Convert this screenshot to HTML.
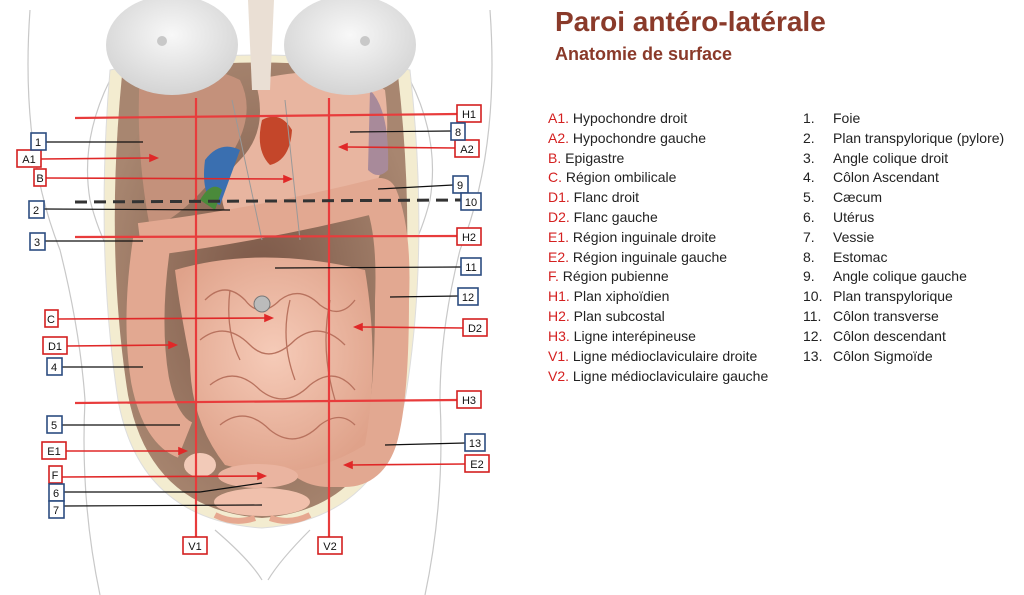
<!DOCTYPE html>
<html><head><meta charset="utf-8"><style>
html,body{margin:0;padding:0;background:#fff;}
body{width:1024px;height:595px;overflow:hidden;position:relative;font-family:"Liberation Sans",sans-serif;}
svg{position:absolute;left:0;top:0;}
</style></head><body>
<svg width="1024" height="595" viewBox="0 0 1024 595">
<defs>
<radialGradient id="cav" cx="50%" cy="50%" r="55%"><stop offset="0" stop-color="#7a5646"/><stop offset="1" stop-color="#a88670"/></radialGradient>
<radialGradient id="gut" cx="50%" cy="45%" r="60%"><stop offset="0" stop-color="#f6cbb8"/><stop offset="1" stop-color="#dfa28a"/></radialGradient>
<radialGradient id="br" cx="50%" cy="40%" r="60%"><stop offset="0" stop-color="#f8f8f8"/><stop offset="1" stop-color="#d4d4d4"/></radialGradient>
</defs>
<g fill="none" stroke="#c8c8c8" stroke-width="1.2">
<path d="M30 10 Q20 150 60 250 Q80 330 85 400 Q80 500 100 595"/>
<path d="M490 10 Q500 150 460 250 Q440 330 440 400 Q445 500 425 595"/>
<path d="M110 80 Q80 140 90 200 Q100 240 120 270"/>
<path d="M410 80 Q440 140 430 200 Q420 240 400 270"/>
<path d="M215 530 Q250 560 262 580 M310 530 Q280 560 268 580"/>
</g>
<path d="M110 70 Q260 40 410 70 Q430 250 405 400 Q380 520 262 528 Q140 520 118 400 Q95 250 110 70Z" fill="#f3ecd0" stroke="#ddd" />
<path d="M122 75 Q260 50 398 75 Q418 250 395 395 Q370 510 262 518 Q150 510 128 395 Q105 250 122 75Z" fill="url(#cav)"/>
<path d="M140 70 Q200 60 240 80 Q260 120 220 170 Q180 220 150 228 Q135 150 140 70Z" fill="#c4917b"/>
<path d="M255 80 Q340 60 385 90 Q395 170 360 210 Q300 235 230 220 Q210 190 240 160 Q270 130 255 80Z" fill="#e8b5a0"/>
<path d="M262 120 Q280 110 292 130 Q290 160 270 165 Q255 150 262 120Z" fill="#c4462a"/>
<path d="M205 160 Q220 140 240 150 L220 205 Q200 200 205 160Z" fill="#3a6fb0"/>
<path d="M200 200 Q212 180 222 190 L215 210 Z" fill="#4a8a3a"/>
<path d="M210 215 Q240 205 270 220 Q255 240 215 238Z" fill="#e8d68e"/>
<path d="M370 90 Q390 110 388 170 Q378 180 368 170Z" fill="#a88a9a"/>
<ellipse cx="172" cy="45" rx="66" ry="50" fill="url(#br)"/>
<ellipse cx="350" cy="45" rx="66" ry="50" fill="url(#br)"/>
<circle cx="162" cy="41" r="5" fill="#c8c8c8"/><circle cx="365" cy="41" r="5" fill="#c8c8c8"/>
<path d="M248 0 L274 0 L270 90 L252 90Z" fill="#eadfd4"/>
<path d="M140 240 Q260 225 380 195 Q395 230 392 300 Q392 400 380 440 Q370 470 345 470 L330 470 Q300 470 290 440" fill="none" stroke="#e2a891" stroke-width="34" stroke-linejoin="round"/>
<path d="M152 240 Q140 320 150 380 Q160 430 185 440" fill="none" stroke="#e2a891" stroke-width="38"/>
<path d="M175 270 Q260 245 365 270 Q380 360 365 445 Q300 485 225 465 Q190 420 190 360 Q180 310 175 270Z" fill="url(#gut)"/>
<g fill="none" stroke="#b8725e" stroke-width="1.3">
<path d="M205 300 Q225 280 245 300 Q260 320 280 300 Q300 285 320 305 Q340 320 355 300"/>
<path d="M200 340 Q225 320 250 345 Q270 365 295 340 Q320 320 345 345"/>
<path d="M210 385 Q235 365 260 390 Q285 410 310 385 Q335 365 355 390"/>
<path d="M220 425 Q245 405 270 430 Q295 450 320 425 Q340 410 355 425"/>
<path d="M230 290 Q225 330 240 360 M290 300 Q280 340 295 380 M330 300 Q320 350 335 400"/>
</g>
<circle cx="262" cy="304" r="8" fill="#bbb" stroke="#777"/>
<ellipse cx="258" cy="476" rx="40" ry="12" fill="#eab4a0"/>
<ellipse cx="262" cy="502" rx="48" ry="14" fill="#f0c0ac"/>
<ellipse cx="200" cy="465" rx="16" ry="12" fill="#f2cab8"/>
<path d="M215 515 Q235 525 255 518 M270 518 Q290 525 310 515" stroke="#e6a890" stroke-width="6" fill="none"/>
<path d="M232 100 L262 240 M285 100 L300 240" stroke="#999" fill="none" stroke-width="1"/>

<g stroke="#e83c3c" stroke-width="2.2" fill="none">
<line x1="196" y1="98" x2="196" y2="537"/>
<line x1="329" y1="98" x2="329" y2="537"/>
<line x1="75" y1="118" x2="457" y2="114"/>
<line x1="75" y1="237" x2="457" y2="236"/>
<line x1="75" y1="403" x2="457" y2="400"/>
</g>
<line x1="75" y1="202" x2="461" y2="200" stroke="#333" stroke-width="3" stroke-dasharray="12,7"/>

<g stroke="#111" stroke-width="1.2">
<line x1="46" y1="142" x2="143" y2="142"/>
<line x1="451" y1="131" x2="350" y2="132"/>
<line x1="453" y1="185" x2="378" y2="189"/>
<line x1="44" y1="209" x2="230" y2="210"/>
<line x1="45" y1="241" x2="143" y2="241"/>
<line x1="461" y1="267" x2="275" y2="268"/>
<line x1="458" y1="296" x2="390" y2="297"/>
<line x1="62" y1="367" x2="143" y2="367"/>
<line x1="62" y1="425" x2="180" y2="425"/>
<line x1="465" y1="443" x2="385" y2="445"/>
<line x1="64" y1="492" x2="200" y2="492"/><line x1="200" y1="492" x2="262" y2="483"/>
<line x1="64" y1="506" x2="262" y2="505"/>
</g>
<g stroke="#e02828" stroke-width="1.6" fill="#e02828">
<line x1="41" y1="159" x2="152" y2="158"/><path d="M157 158 l-7 -3 v6z"/>
<line x1="455" y1="148" x2="346" y2="147"/><path d="M340 147 l7 -3 v6z"/>
<line x1="46" y1="178" x2="285" y2="179"/><path d="M291 179 l-7 -3 v6z"/>
<line x1="58" y1="319" x2="266" y2="318"/><path d="M272 318 l-7 -3 v6z"/>
<line x1="463" y1="328" x2="361" y2="327"/><path d="M355 327 l7 -3 v6z"/>
<line x1="67" y1="346" x2="170" y2="345"/><path d="M176 345 l-7 -3 v6z"/>
<line x1="66" y1="451" x2="180" y2="451"/><path d="M186 451 l-7 -3 v6z"/>
<line x1="465" y1="464" x2="351" y2="465"/><path d="M345 465 l7 -3 v6z"/>
<line x1="62" y1="477" x2="259" y2="476"/><path d="M265 476 l-7 -3 v6z"/>
</g>

<g font-family="Liberation Sans, sans-serif" font-size="11" text-anchor="middle" fill="#111">
<g fill="#fff" stroke="#d42020" stroke-width="1.6">
<rect x="457" y="105" width="24" height="17"/><rect x="455" y="140" width="24" height="17"/>
<rect x="457" y="228" width="24" height="17"/><rect x="463" y="319" width="24" height="17"/>
<rect x="457" y="391" width="24" height="17"/><rect x="465" y="455" width="24" height="17"/>
<rect x="17" y="150" width="24" height="17"/><rect x="34" y="169" width="12" height="17"/>
<rect x="45" y="310" width="13" height="17"/><rect x="43" y="337" width="24" height="17"/>
<rect x="42" y="442" width="24" height="17"/><rect x="49" y="466" width="13" height="17"/>
<rect x="183" y="537" width="24" height="17"/><rect x="318" y="537" width="24" height="17"/>
</g>
<g fill="#fff" stroke="#2c4c80" stroke-width="1.6">
<rect x="31" y="133" width="15" height="17"/><rect x="451" y="123" width="14" height="17"/>
<rect x="453" y="176" width="15" height="17"/><rect x="461" y="193" width="20" height="17"/>
<rect x="29" y="201" width="15" height="17"/><rect x="30" y="233" width="15" height="17"/>
<rect x="461" y="258" width="20" height="17"/><rect x="458" y="288" width="20" height="17"/>
<rect x="47" y="358" width="15" height="17"/><rect x="47" y="416" width="15" height="17"/>
<rect x="465" y="434" width="20" height="17"/><rect x="49" y="484" width="15" height="17"/>
<rect x="49" y="501" width="15" height="17"/>
</g>
<text x="469" y="118">H1</text><text x="467" y="153">A2</text><text x="469" y="241">H2</text>
<text x="475" y="332">D2</text><text x="469" y="404">H3</text><text x="477" y="468">E2</text>
<text x="29" y="163">A1</text><text x="40" y="182">B</text><text x="51" y="323">C</text>
<text x="55" y="350">D1</text><text x="54" y="455">E1</text><text x="55" y="479">F</text>
<text x="195" y="550">V1</text><text x="330" y="550">V2</text>
<text x="38" y="146">1</text><text x="458" y="136">8</text><text x="460" y="189">9</text>
<text x="471" y="206">10</text><text x="36" y="214">2</text><text x="37" y="246">3</text>
<text x="471" y="271">11</text><text x="468" y="301">12</text><text x="54" y="371">4</text>
<text x="54" y="429">5</text><text x="475" y="447">13</text><text x="56" y="497">6</text><text x="56" y="514">7</text>
</g>

<text x="555" y="31" font-family="Liberation Sans, sans-serif" font-size="28" font-weight="bold" fill="#8a3a2a">Paroi antéro-latérale</text>
<text x="555" y="60" font-family="Liberation Sans, sans-serif" font-size="18" font-weight="bold" fill="#8a3a2a">Anatomie de surface</text>

<g font-family="Liberation Sans, sans-serif" font-size="14" fill="#222">
<text x="548" y="123"><tspan fill="#d42020">A1.</tspan> Hypochondre droit</text>
<text x="548" y="143"><tspan fill="#d42020">A2.</tspan> Hypochondre gauche</text>
<text x="548" y="163"><tspan fill="#d42020">B.</tspan>    Epigastre</text>
<text x="548" y="182"><tspan fill="#d42020">C.</tspan>   Région ombilicale</text>
<text x="548" y="202"><tspan fill="#d42020">D1.</tspan> Flanc droit</text>
<text x="548" y="222"><tspan fill="#d42020">D2.</tspan> Flanc gauche</text>
<text x="548" y="242"><tspan fill="#d42020">E1.</tspan> Région inguinale droite</text>
<text x="548" y="262"><tspan fill="#d42020">E2.</tspan> Région inguinale gauche</text>
<text x="548" y="281"><tspan fill="#d42020">F.</tspan>   Région pubienne</text>
<text x="548" y="301"><tspan fill="#d42020">H1.</tspan> Plan xiphoïdien</text>
<text x="548" y="321"><tspan fill="#d42020">H2.</tspan> Plan subcostal</text>
<text x="548" y="341"><tspan fill="#d42020">H3.</tspan> Ligne interépineuse</text>
<text x="548" y="361"><tspan fill="#d42020">V1.</tspan> Ligne médioclaviculaire droite</text>
<text x="548" y="381"><tspan fill="#d42020">V2.</tspan> Ligne médioclaviculaire gauche</text>
<text x="803" y="123">1.</text><text x="833" y="123">Foie</text>
<text x="803" y="143">2.</text><text x="833" y="143">Plan transpylorique (pylore)</text>
<text x="803" y="163">3.</text><text x="833" y="163">Angle colique droit</text>
<text x="803" y="182">4.</text><text x="833" y="182">Côlon Ascendant</text>
<text x="803" y="202">5.</text><text x="833" y="202">Cæcum</text>
<text x="803" y="222">6.</text><text x="833" y="222">Utérus</text>
<text x="803" y="242">7.</text><text x="833" y="242">Vessie</text>
<text x="803" y="262">8.</text><text x="833" y="262">Estomac</text>
<text x="803" y="281">9.</text><text x="833" y="281">Angle colique gauche</text>
<text x="803" y="301">10.</text><text x="833" y="301">Plan transpylorique</text>
<text x="803" y="321">11.</text><text x="833" y="321">Côlon transverse</text>
<text x="803" y="341">12.</text><text x="833" y="341">Côlon descendant</text>
<text x="803" y="361">13.</text><text x="833" y="361">Côlon Sigmoïde</text>
</g>
</svg>
</body></html>
